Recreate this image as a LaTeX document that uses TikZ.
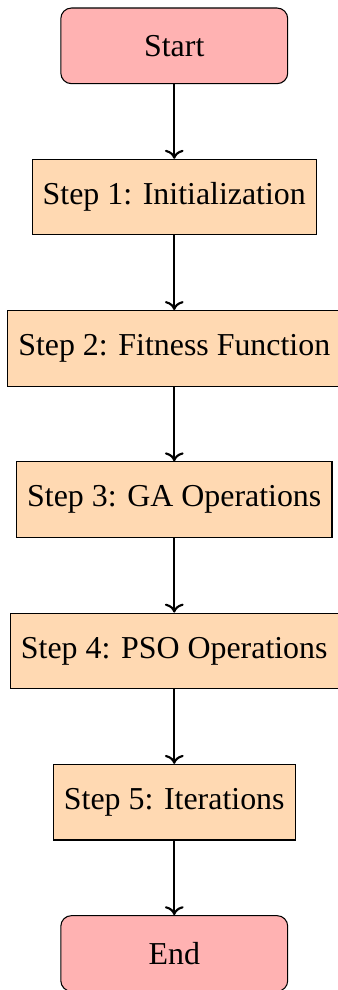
\documentclass[tikz,border=0pt]{standalone}
\usepackage{fontspec}
\setmainfont{Liberation Serif}
\usetikzlibrary{arrows.meta}
\begin{document}
\begin{tikzpicture}[
  base/.style={draw=black, minimum height=1cm, font=\fontsize{12}{14.4}\selectfont, inner sep=4pt, align=center},
  term/.style={base, rounded corners, fill=red!30, minimum width=3cm},
  stepbox/.style={base, fill=orange!30, minimum width=3cm},
  conn/.style={thick, ->}
]
\useasboundingbox (-2.304,0.606) rectangle (2.153,-12.483);
\node[term] (start) at (0,0) {Start};
\node[stepbox] (s1) at (0,-2) {Step 1: Initialization};
\node[stepbox] (s2) at (0,-4) {Step 2: Fitness Function};
\node[stepbox] (s3) at (0,-6) {Step 3: GA Operations};
\node[stepbox] (s4) at (0,-8) {Step 4: PSO Operations};
\node[stepbox] (s5) at (0,-10) {Step 5: Iterations};
\node[term] (end) at (0,-12) {End};
\draw[conn] (start) -- (s1);
\draw[conn] (s1) -- (s2);
\draw[conn] (s2) -- (s3);
\draw[conn] (s3) -- (s4);
\draw[conn] (s4) -- (s5);
\draw[conn] (s5) -- (end);
\end{tikzpicture}
\end{document}
